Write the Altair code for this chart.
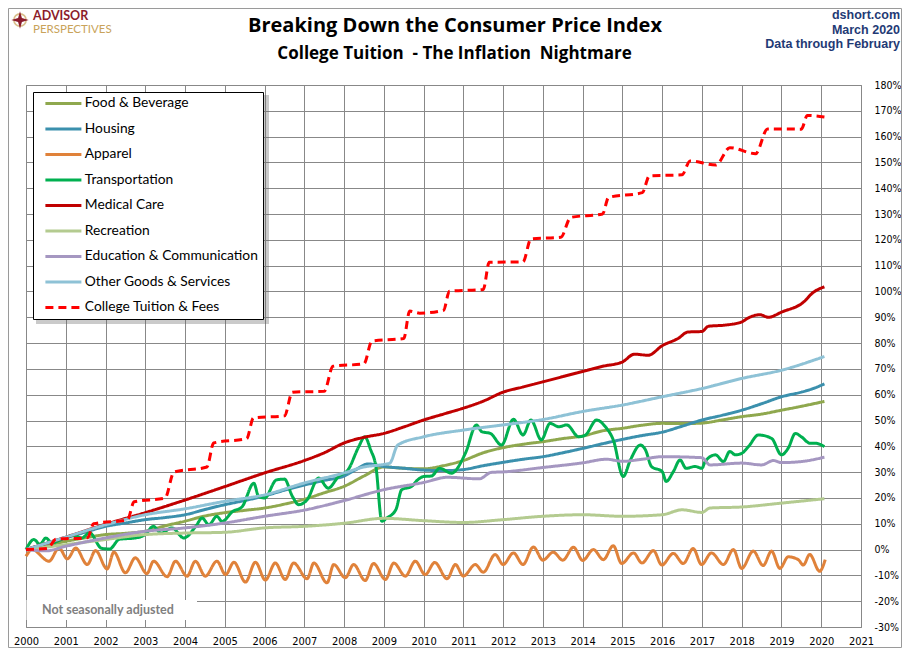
import altair as alt
import pandas as pd

# ---------------- data ----------------
SERIES = ["Food & Beverage", "Housing", "Apparel", "Transportation", "Medical Care",
          "Recreation", "Education & Communication", "Other Goods & Services",
          "College Tuition & Fees"]
COLORS = ["#8fa84e", "#3b90ad", "#e0823a", "#00b050", "#c00000",
          "#b4cb90", "#a597c1", "#8ec2d6", "#ff0000"]
DASHES = [[1, 0]] * 8 + [[8, 5]]

food_x = [2000.0, 2000.5, 2001.0, 2001.5, 2002.0, 2002.5, 2003.0, 2003.5, 2004.0, 2004.5, 2005.0,
          2005.5, 2006.0, 2006.5, 2007.0, 2007.5, 2008.0, 2008.5, 2009.0, 2009.5, 2010.0, 2010.5,
          2011.0, 2011.5, 2012.0, 2012.5, 2013.0, 2013.5, 2014.0, 2014.5, 2015.0, 2015.5, 2016.0,
          2016.5, 2017.0, 2017.5, 2018.0, 2018.5, 2019.0, 2019.5, 2020.08]
food_y = [0.0, 1.5, 3.2, 4.6, 5.8, 6.3, 7.1, 9.2, 11.0, 13.0, 14.3, 15.2, 16.1, 17.6, 19.5, 22.0,
          24.5, 28.5, 32.0, 31.5, 31.3, 32.5, 34.5, 37.5, 39.5, 40.8, 41.8, 43.0, 44.0, 46.0, 47.0,
          48.2, 48.9, 48.8, 49.0, 50.2, 51.5, 52.5, 54.0, 55.5, 57.4]

hous_x = [2000.0, 2000.5, 2001.0, 2001.5, 2002.0, 2002.5, 2003.0, 2003.5, 2004.0, 2004.5, 2005.0,
          2005.5, 2006.0, 2006.5, 2007.0, 2007.5, 2008.0, 2008.3, 2008.6, 2009.0, 2009.5, 2010.0,
          2010.5, 2011.0, 2011.5, 2012.0, 2012.5, 2013.0, 2013.5, 2014.0, 2014.5, 2015.0, 2015.5,
          2016.0, 2016.5, 2017.0, 2017.5, 2018.0, 2018.5, 2019.0, 2019.5, 2019.8, 2020.08]
hous_y = [0.0, 2.3, 4.5, 6.8, 9.0, 10.3, 11.6, 12.4, 13.5, 15.5, 17.4, 19.0, 20.8, 23.0, 25.0, 26.8,
          28.5, 31.0, 33.2, 32.2, 31.5, 30.8, 30.6, 31.0, 32.5, 33.8, 35.0, 36.0, 37.5, 39.2, 41.0,
          42.7, 44.2, 45.5, 47.8, 50.2, 52.0, 54.0, 56.5, 59.2, 61.0, 62.4, 64.2]

app_x = [2000.0, 2000.15, 2000.58, 2000.83, 2001.04, 2001.25, 2001.54, 2001.75, 2002.04, 2002.21,
         2002.5, 2002.75, 2003.04, 2003.21, 2003.55, 2003.76, 2004.05, 2004.26, 2004.51, 2004.8,
         2005.02, 2005.23, 2005.52, 2005.77, 2006.02, 2006.27, 2006.52, 2006.73, 2007.07, 2007.24,
         2007.57, 2007.74, 2008.03, 2008.24, 2008.53, 2008.74, 2009.04, 2009.25, 2009.54, 2009.79,
         2010.04, 2010.28, 2010.59, 2010.8, 2011.0, 2011.3, 2011.5, 2011.8, 2012.0, 2012.26,
         2012.5, 2012.76, 2013.0, 2013.26, 2013.5, 2013.77, 2014.0, 2014.27, 2014.52, 2014.77,
         2014.98, 2015.28, 2015.49, 2015.78, 2015.99, 2016.28, 2016.53, 2016.78, 2016.99, 2017.24,
         2017.54, 2017.79, 2018.0, 2018.29, 2018.54, 2018.75, 2018.96, 2019.17, 2019.42, 2019.55,
         2019.71, 2019.96, 2020.1]
app_y = [-2.6, 0.0, -4.5, 0.6, -3.6, 0.6, -5.8, -0.4, -7.5, -1.0,
         -9.0, -3.2, -9.3, -4.5, -10.5, -4.5, -10.3, -4.5, -10.3, -4.5,
         -9.7, -4.9, -12.6, -4.9, -11.8, -5.2, -11.6, -5.2, -11.3, -5.2,
         -12.9, -5.8, -10.9, -5.8, -12.0, -5.4, -11.6, -5.2, -10.3, -4.5,
         -9.7, -5.0, -11.3, -5.8, -10.3, -5.8, -8.8, -1.9, -5.8, -1.3,
         -5.8, 1.0, -4.1, -1.0, -4.1, 0.9, -4.2, 0.0, -3.9, 1.5,
         -5.4, -1.3, -5.2, -0.4, -6.0, -1.5, -5.4, 0.4, -5.8, -1.3,
         -5.8, 0.0, -7.3, -0.6, -6.2, -0.6, -7.3, -2.8, -3.9, -6.0,
         -1.9, -8.4, -3.9]

tr_x = [2000.0, 2000.2, 2000.35, 2000.5, 2000.65, 2000.9, 2001.2, 2001.4, 2001.6, 2001.9, 2002.1,
        2002.35, 2002.75, 2003.0, 2003.2, 2003.4, 2003.67, 2003.97, 2004.27, 2004.43, 2004.6,
        2004.8, 2004.93, 2005.2, 2005.43, 2005.73, 2005.85, 2006.0, 2006.3, 2006.5, 2006.7,
        2006.86, 2007.07, 2007.36, 2007.6, 2007.86, 2008.1, 2008.37, 2008.52, 2008.67, 2008.8,
        2008.95, 2009.07, 2009.3, 2009.45, 2009.7, 2009.85, 2010.0, 2010.2, 2010.4, 2010.7,
        2011.05, 2011.33, 2011.46, 2011.68, 2011.96, 2012.26, 2012.5, 2012.7, 2012.96, 2013.18,
        2013.4, 2013.6, 2013.9, 2014.07, 2014.35, 2014.57, 2014.77, 2015.02, 2015.2, 2015.45,
        2015.58, 2015.73, 2016.0, 2016.1, 2016.28, 2016.45, 2016.6, 2016.83, 2017.0, 2017.08,
        2017.34, 2017.54, 2017.7, 2017.84, 2018.0, 2018.17, 2018.42, 2018.75, 2019.0, 2019.17,
        2019.35, 2019.5, 2019.72, 2019.85, 2020.08]
tr_y = [0.0, 3.9, 2.0, 4.5, 2.6, 4.0, 5.5, 4.5, 6.5, 0.5, 0.2,
        4.0, 4.5, 5.8, 9.0, 6.4, 8.4, 4.5, 9.0, 12.2, 9.6,
        12.9, 10.9, 14.8, 16.5, 25.7, 20.6, 20.0, 27.0, 27.3, 20.6,
        17.4, 19.3, 27.7, 23.8, 28.3, 30.9, 39.9, 43.7, 38.6, 32.2,
        11.0, 12.2, 15.4, 23.2, 24.5, 27.0, 28.3, 28.5, 31.5, 29.6,
        37.3, 48.3, 45.7, 45.0, 40.5, 50.5, 44.4, 50.2, 42.5, 48.9,
        47.6, 48.3, 43.7, 44.4, 50.2, 47.6, 42.5, 28.3, 34.7, 40.5,
        38.6, 32.2, 30.2, 26.4, 30.2, 34.7, 31.5, 32.2, 31.5, 34.1,
        36.7, 34.1, 38.0, 36.7, 37.3, 39.9, 44.4, 43.1, 36.7, 39.3,
        45.0, 43.7, 41.2, 41.2, 39.9]

med_x = [2000.0, 2001.0, 2002.0, 2003.0, 2004.0, 2005.0, 2006.0, 2007.0, 2007.5, 2008.0, 2008.5,
         2009.0, 2009.5, 2010.0, 2010.5, 2011.0, 2011.5, 2012.0, 2012.5, 2013.0, 2013.5, 2014.0,
         2014.5, 2015.0, 2015.3, 2015.65, 2016.0, 2016.4, 2016.65, 2017.0, 2017.16, 2017.6, 2018.0,
         2018.17, 2018.46, 2018.67, 2019.0, 2019.6, 2019.75, 2020.08]
med_y = [0.0, 4.8, 9.8, 14.3, 19.2, 24.4, 29.7, 34.5, 37.5, 41.3, 43.5,
         45.0, 47.5, 50.2, 52.5, 54.8, 57.5, 61.0, 63.0, 65.0, 67.0, 69.0,
         71.0, 72.7, 75.7, 75.3, 79.0, 81.8, 84.3, 84.5, 86.5, 87.0, 88.2,
         89.8, 91.0, 90.0, 92.0, 96.5, 99.0, 101.8]

rec_x = [2000.0, 2001.0, 2002.0, 2003.0, 2004.0, 2005.0, 2006.0, 2007.0, 2008.0, 2009.0, 2010.0,
         2011.0, 2012.0, 2013.0, 2014.0, 2015.0, 2016.0, 2016.5, 2017.0, 2017.2, 2018.0, 2019.0,
         2020.08]
rec_y = [0.0, 1.9, 3.9, 5.8, 6.4, 6.7, 8.4, 9.0, 10.2, 12.1, 11.2,
         10.5, 11.6, 12.9, 13.5, 12.9, 13.5, 15.4, 14.4, 16.1, 16.5, 18.0,
         19.7]

edu_x = [2000.0, 2000.5, 2001.0, 2002.0, 2003.0, 2004.0, 2005.0, 2006.0, 2007.0, 2008.0, 2009.0,
         2010.0, 2010.6, 2011.4, 2011.7, 2012.0, 2013.0, 2014.0, 2014.6, 2015.0, 2015.5, 2016.0,
         2017.0, 2017.2, 2018.0, 2018.5, 2018.8, 2019.0, 2019.5, 2020.08]
edu_y = [0.0, -0.5, 1.3, 4.5, 7.1, 8.4, 10.3, 12.9, 15.3, 19.0, 23.2,
         26.0, 28.0, 27.4, 29.9, 30.1, 31.8, 33.6, 35.0, 34.2, 35.0, 36.0,
         35.6, 32.8, 33.5, 32.8, 34.5, 33.7, 34.1, 35.8]

oth_x = [2000.0, 2001.0, 2002.0, 2003.0, 2004.0, 2005.0, 2006.0, 2007.0, 2008.0, 2008.5, 2009.0,
         2009.15, 2009.35, 2010.0, 2011.0, 2012.0, 2013.0, 2014.0, 2015.0, 2016.0, 2017.0, 2018.0,
         2019.0, 2020.08]
oth_y = [0.0, 4.8, 9.6, 13.5, 15.8, 18.7, 21.2, 25.8, 29.7, 32.0, 33.0,
         33.5, 40.5, 43.7, 46.3, 48.3, 50.4, 53.5, 56.0, 59.2, 62.4, 66.3,
         69.5, 74.8]

tu_x = [2000.0, 2000.55, 2000.75, 2001.55, 2001.7, 2002.55, 2002.72, 2003.5, 2003.72, 2004.55,
        2004.72, 2005.55, 2005.72, 2006.5, 2006.7, 2007.5, 2007.72, 2008.5, 2008.7, 2009.5,
        2009.65, 2009.9, 2010.5, 2010.65, 2011.5, 2011.65, 2012.5, 2012.7, 2013.45, 2013.7,
        2014.5, 2014.65, 2015.5, 2015.68, 2016.5, 2016.7, 2017.35, 2017.7, 2018.35, 2018.65,
        2019.5, 2019.65, 2020.08]
tu_y = [0.0, 0.5, 4.0, 4.6, 10.0, 11.5, 18.5, 20.0, 30.0, 32.0,
        41.3, 43.0, 51.0, 51.8, 61.0, 61.3, 71.0, 72.0, 80.8, 81.8,
        92.4, 91.6, 92.7, 100.1, 100.8, 111.3, 111.5, 120.4, 121.0, 128.7,
        130.0, 136.4, 138.3, 144.8, 145.2, 150.6, 149.0, 155.7, 153.4, 163.0,
        162.9, 168.2, 167.6]

YEAR_TICKS = list(range(2000, 2022))
PCT_TICKS = list(range(-30, 181, 10))

# ---------------- build table ----------------
XS = [food_x, hous_x, app_x, tr_x, med_x, rec_x, edu_x, oth_x, tu_x]
YS = [food_y, hous_y, app_y, tr_y, med_y, rec_y, edu_y, oth_y, tu_y]
rows = []
for name, xs, ys in zip(SERIES, XS, YS):
    n = min(len(xs), len(ys))
    for a, b in zip(xs[:n], ys[:n]):
        rows.append({"series": name, "year": a, "value": b})
df = pd.DataFrame(rows)
one = pd.DataFrame({"k": [0]})

# canvas 894 x 640 (fits the 910 x 661 window with the 8px page margin)
PAD_L, PAD_T = 18, 77
W, H = 835, 542
PAD_R = 894 - PAD_L - W
PAD_B = 640 - PAD_T - H

legend = alt.Legend(
    title=None, orient="none", legendX=7, legendY=7, padding=4.5,
    strokeColor="black", fillColor="white", cornerRadius=0,
    symbolType="M-6,0H6", symbolSize=36, symbolStrokeWidth=3,
    symbolOffset=19, labelOffset=14.5, rowPadding=10.5,
    labelFont="Lato", labelFontSize=13.8, labelColor="black", labelLimit=400,
    labelExpr="datum.label + '\u00a0\u00a0\u00a0\u00a0\u00a0'",
)

lines = alt.Chart(df).mark_line(strokeWidth=3, interpolate="monotone", strokeJoin="round").encode(
    x=alt.X("year:Q", scale=alt.Scale(domain=[2000, 2021], nice=False, zero=False),
            axis=alt.Axis(values=YEAR_TICKS, format="d", title=None, labelPadding=8,
                          labelFlush=False, labelOverlap=False)),
    y=alt.Y("value:Q", scale=alt.Scale(domain=[-30, 180], nice=False),
            axis=alt.Axis(orient="right", values=PCT_TICKS, title=None,
                          labelExpr="datum.value + '%'", labelAlign="left",
                          labelPadding=13, labelBaseline="middle", labelFlush=False,
                          labelOverlap=False, labelFontSize=10.5)),
    color=alt.Color("series:N", scale=alt.Scale(domain=SERIES, range=COLORS), legend=legend),
    strokeDash=alt.StrokeDash("series:N", scale=alt.Scale(domain=SERIES, range=DASHES), legend=legend),
)


def txt(s, x, y, size, color="black", weight="normal", font="Lato", align="left"):
    return alt.Chart(one).mark_text(
        text=s, font=font, fontSize=size, fontWeight=weight, color=color,
        align=align, baseline="alphabetic"
    ).encode(x=alt.value(x), y=alt.value(y))


shadow = alt.Chart(one).mark_rect(color="#666666", opacity=0.35).encode(
    x=alt.value(10), x2=alt.value(243), y=alt.value(10), y2=alt.value(239))

nsa_box = alt.Chart(one).mark_rect(color="white").encode(
    x=alt.value(0.5), x2=alt.value(171), y=alt.value(515), y2=alt.value(535))

border = alt.Chart(one).mark_rect(fillOpacity=0, stroke="#9a9a9a", strokeWidth=1).encode(
    x=alt.value(-PAD_L + 0.5), x2=alt.value(W + PAD_R - 0.5),
    y=alt.value(-PAD_T + 0.5), y2=alt.value(H + PAD_B - 0.5))

ring = alt.Chart(one).mark_point(shape="circle", filled=False, size=150, stroke="#c9a35a",
                                 strokeWidth=1.6).encode(x=alt.value(-6), y=alt.value(-65))
star = alt.Chart(one).mark_point(
    shape="M0,-1L0.22,-0.22L1,0L0.22,0.22L0,1L-0.22,0.22L-1,0L-0.22,-0.22Z",
    filled=True, size=300, fill="#8c1c2c", opacity=1, strokeWidth=0
).encode(x=alt.value(-6), y=alt.value(-65))

layers = [
    shadow, nsa_box, lines, border, ring, star,
    txt("ADVISOR", 7, -65.5, 12.5, "#8c1c2c", "bold"),
    txt("PERSPECTIVES", 7, -52.5, 11.5, "#c9a35a"),
    txt("Breaking Down the Consumer Price Index", 429, -53, 20, "black", "bold", "Open Sans", "center"),
    txt("College Tuition\u00a0 - The Inflation\u00a0 Nightmare", 428.5, -26, 17, "black", "bold",
        "Open Sans", "center"),
    txt("dshort.com", 874, -66, 12.5, "#1f3a75", "bold", "Liberation Sans", "right"),
    txt("March 2020", 874, -51.5, 12.5, "#1f3a75", "bold", "Liberation Sans", "right"),
    txt("Data through February", 874, -37, 12.5, "#1f3a75", "bold", "Liberation Sans", "right"),
    txt("Not seasonally adjusted", 16, 529, 12.5, "#7f7f7f", "bold"),
]

chart = alt.layer(*layers).properties(
    width=W, height=H,
    padding={"left": PAD_L, "top": PAD_T, "right": PAD_R, "bottom": PAD_B},
    autosize=alt.AutoSizeParams(type="none"),
    background="white",
).configure_view(stroke="#888888", strokeWidth=1).configure_axis(
    grid=True, gridColor="#888888", gridWidth=1, gridOpacity=1, domain=False, ticks=False,
    labelFont="DejaVu Sans Condensed, DejaVu Sans", labelFontSize=11, labelColor="black",
)

chart.save("out.html", embed_options={"renderer": "svg", "actions": False})
